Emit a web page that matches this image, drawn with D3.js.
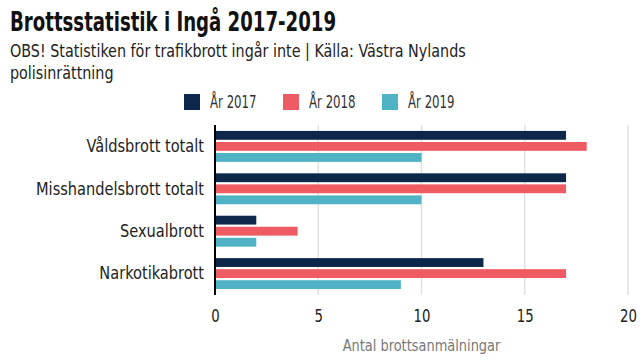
<!DOCTYPE html>
<html>
<head>
<meta charset="utf-8">
<script src="https://cdn.jsdelivr.net/npm/d3@7"></script>
<style>
  html, body { margin: 0; padding: 0; background: #fff; }
  svg { display: block; }
  text { font-family: "DejaVu Sans Condensed", "Liberation Sans Narrow", "Roboto Condensed", Roboto, sans-serif; }
</style>
</head>
<body>
<svg id="chart" width="640" height="360"></svg>
<script>
const categories = ["Våldsbrott totalt", "Misshandelsbrott totalt", "Sexualbrott", "Narkotikabrott"];
const seriesNames = ["År 2017", "År 2018", "År 2019"];
const values2017 = [17, 17, 2, 13];
const values2018 = [18, 17, 4, 17];
const values2019 = [10, 10, 2, 9];
const xTicks = [0, 5, 10, 15, 20];
const colors = ["#0c2749", "#ef5b63", "#4fb2c5"];

const seriesValues = [values2017, values2018, values2019];
const svg = d3.select("#chart");

// narrow the fallback font horizontally to mimic the condensed original typeface
function squeeze(sel, k) {
  sel.each(function() {
    const w = this.getComputedTextLength();
    d3.select(this).attr("textLength", w * k).attr("lengthAdjust", "spacingAndGlyphs");
  });
}

const x = d3.scaleLinear().domain([0, 20]).range([215, 628]);
const y = d3.scaleBand().domain(categories).range([125, 295]).paddingInner(0.27).paddingOuter(0.14);
const ySub = d3.scaleBand().domain(seriesNames).range([0, y.bandwidth()]).paddingInner(0.2);

// title
svg.append("text").attr("x", 10).attr("y", 31).attr("font-size", 26).attr("font-weight", "bold").attr("fill", "#111")
  .text("Brottsstatistik i Ingå 2017-2019").call(squeeze, 0.775);
svg.append("text").attr("x", 10).attr("y", 57).attr("font-size", 18).attr("fill", "#222")
  .text("OBS! Statistiken för trafikbrott ingår inte | Källa: Västra Nylands").call(squeeze, 0.885);
svg.append("text").attr("x", 10).attr("y", 79).attr("font-size", 18).attr("fill", "#222")
  .text("polisinrättning").call(squeeze, 0.885);

// legend
const legendX = [184, 283, 382];
seriesNames.forEach((s, i) => {
  svg.append("rect").attr("x", legendX[i]).attr("y", 94).attr("width", 16).attr("height", 16).attr("fill", colors[i]);
  svg.append("text").attr("x", legendX[i] + 26).attr("y", 108).attr("font-size", 17).attr("fill", "#333").text(s).call(squeeze, 0.77);
});

// grid
svg.append("g").selectAll("line").data(xTicks.filter(d => d > 0)).join("line")
  .attr("x1", d => x(d)).attr("x2", d => x(d)).attr("y1", 125).attr("y2", 295)
  .attr("stroke", "#e1e1e1").attr("stroke-width", 1.5);

// bars
const groups = svg.append("g").selectAll("g").data(categories).join("g")
  .attr("transform", d => `translate(0,${y(d)})`);
groups.selectAll("rect").data((c, ci) => seriesNames.map((s, si) => ({s, si, v: seriesValues[si][ci]}))).join("rect")
  .attr("x", x(0)).attr("y", d => ySub(d.s)).attr("height", ySub.bandwidth())
  .attr("width", d => x(d.v) - x(0)).attr("fill", d => colors[d.si]);

// y axis
const yAxis = svg.append("g").attr("transform", `translate(${x(0)},0)`)
  .call(d3.axisLeft(y).tickSize(0).tickPadding(11));
yAxis.select(".domain").remove();
yAxis.selectAll("text").attr("font-size", 18).attr("fill", "#222").style("font-family", null).call(squeeze, 0.9);
svg.append("line").attr("x1", x(0)).attr("x2", x(0)).attr("y1", 125).attr("y2", 295).attr("stroke", "#000").attr("stroke-width", 2);

// x axis
const xAxis = svg.append("g").attr("transform", "translate(0,301)")
  .call(d3.axisBottom(x).tickValues(xTicks).tickSize(0).tickPadding(8));
xAxis.select(".domain").remove();
xAxis.selectAll("text").attr("font-size", 18).attr("fill", "#222").style("font-family", null).call(squeeze, 0.82);

svg.append("text").attr("x", (x(0) + x(20)) / 2).attr("y", 351).attr("text-anchor", "middle")
  .attr("font-size", 16).attr("fill", "#777").text("Antal brottsanmälningar").call(squeeze, 0.9);
</script>
</body>
</html>
